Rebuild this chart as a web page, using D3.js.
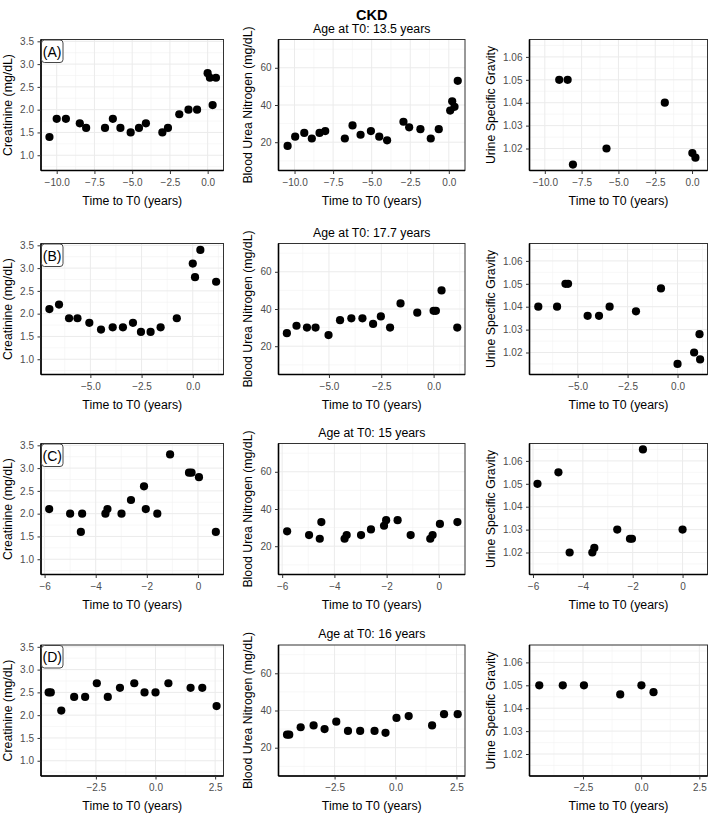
<!DOCTYPE html>
<html><head><meta charset="utf-8">
<script src="https://cdn.jsdelivr.net/npm/d3@7/dist/d3.min.js"></script>
<style>
body{margin:0;background:#fff}
text{font-family:"Liberation Sans",Arial,Helvetica,sans-serif}
</style>
</head><body>
<svg id="chart" width="709" height="814"></svg>
<script>
// ---------------- data (time to T0 in years, value) ----------------
const figureTitle = "CKD";
const panelLabels = ["(A)", "(B)", "(C)", "(D)"];
const ageLabels = ["Age at T0: 13.5 years", "Age at T0: 17.7 years", "Age at T0: 15 years", "Age at T0: 16 years"];
const measureTitles = ["Creatinine (mg/dL)", "Blood Urea Nitrogen (mg/dL)", "Urine Specific Gravity"];
const xTitle = "Time to T0 (years)";

const creatinineA = [[-10.48,1.4],[-10.0,1.8],[-9.39,1.8],[-8.47,1.7],[-8.05,1.6],[-6.8,1.6],[-6.28,1.8],[-5.78,1.6],[-5.1,1.5],[-4.55,1.6],[-4.09,1.7],[-3.0,1.5],[-2.63,1.6],[-1.88,1.9],[-1.27,2.0],[-0.7,2.0],[0.0,2.8],[0.15,2.7],[0.33,2.1],[0.55,2.7]];
const bunA = [[-10.45,18],[-9.96,23],[-9.37,25],[-8.88,22],[-8.38,25],[-8.01,26],[-6.74,22],[-6.24,29],[-5.72,24],[-5.05,26],[-4.51,23],[-4.0,21],[-2.94,31],[-2.57,28],[-1.84,27],[-1.17,22],[-0.65,27],[0.09,37],[0.22,42],[0.37,39],[0.58,53]];
const usgA = [[-9.02,1.050],[-8.45,1.050],[-8.09,1.013],[-5.81,1.020],[-1.85,1.040],[0.02,1.018],[0.23,1.016]];

const creatinineB = [[-7.0,2.1],[-6.53,2.2],[-6.04,1.9],[-5.63,1.9],[-5.05,1.8],[-4.48,1.65],[-3.91,1.7],[-3.41,1.7],[-2.92,1.8],[-2.53,1.6],[-2.06,1.6],[-1.57,1.7],[-0.78,1.9],[0.0,3.1],[0.11,2.8],[0.37,3.4],[1.14,2.7]];
const bunB = [[-7.01,27],[-6.55,31],[-6.05,30],[-5.64,30],[-5.02,26],[-4.47,34],[-3.93,35],[-3.40,35],[-2.89,32],[-2.52,36],[-2.08,30],[-1.58,43],[-0.78,38],[0.0,39],[0.11,39],[0.38,50],[1.13,30]];
const usgB = [[-6.97,1.040],[-6.03,1.040],[-5.61,1.050],[-5.48,1.050],[-4.5,1.036],[-3.93,1.036],[-3.4,1.040],[-2.08,1.038],[-0.83,1.048],[0.0,1.015],[0.83,1.020],[1.1,1.028],[1.13,1.017]];

const creatinineC = [[-5.82,2.1],[-5.0,2.0],[-4.58,1.6],[-4.53,2.0],[-3.62,2.0],[-3.54,2.1],[-2.99,2.0],[-2.62,2.3],[-2.11,2.6],[-2.04,2.1],[-1.59,2.0],[-1.09,3.3],[-0.35,2.9],[-0.25,2.9],[0.04,2.8],[0.70,1.6]];
const bunC = [[-5.81,28],[-4.97,26],[-4.56,24],[-4.50,33],[-3.61,24],[-3.53,26],[-2.98,26],[-2.60,29],[-2.10,31],[-2.02,34],[-1.58,34],[-1.08,26],[-0.33,24],[-0.24,26],[0.04,32],[0.71,33]];
const usgC = [[-5.82,1.050],[-4.98,1.055],[-4.53,1.020],[-3.62,1.020],[-3.54,1.022],[-2.62,1.030],[-2.11,1.026],[-2.03,1.026],[-1.59,1.065],[0.0,1.030]];

const creatinineD = [[-4.48,2.5],[-4.39,2.5],[-3.95,2.1],[-3.41,2.4],[-2.95,2.4],[-2.46,2.7],[-2.0,2.4],[-1.49,2.6],[-0.89,2.7],[-0.46,2.5],[0.0,2.5],[0.54,2.7],[1.47,2.6],[1.96,2.6],[2.56,2.2]];
const bunD = [[-4.45,27],[-4.36,27],[-3.89,31],[-3.36,32],[-2.91,30],[-2.43,34],[-1.95,29],[-1.45,29],[-0.86,29],[-0.41,28],[0.04,36],[0.54,37],[1.5,32],[1.99,38],[2.55,38]];
const usgD = [[-4.38,1.050],[-3.37,1.050],[-2.46,1.050],[-0.90,1.046],[0.01,1.050],[0.53,1.047]];

// axis limits and ticks
const xLimitsByRow = [[-11.04,1.05],[-7.41,1.5],[-6.14,1.0],[-4.8,2.85]];
const xTicksByRow = [[-10,-7.5,-5,-2.5,0],[-5,-2.5,0],[-6,-4,-2,0],[-2.5,0,2.5]];
const xTickDecimals = [1,1,0,1];
const creatinineLimits = [0.665,3.54];
const bunLimits = [4.8,75.2];
const usgLimits = [1.0104,1.0676];
const creatinineTicks = [1.0,1.5,2.0,2.5,3.0,3.5];
const bunTicks = [20,40,60];
const usgTicks = [1.02,1.03,1.04,1.05,1.06];

// ---------------- drawing ----------------
const svg = d3.select("#chart");
const datasets = [[creatinineA,bunA,usgA],[creatinineB,bunB,usgB],[creatinineC,bunC,usgC],[creatinineD,bunD,usgD]];
const yLimits = [creatinineLimits,bunLimits,usgLimits];
const yTicks = [creatinineTicks,bunTicks,usgTicks];
const yFormats = [d3.format(".1f"), d3.format("d"), d3.format(".2f")];

const colX = [[41,223.5],[278.5,465],[529.5,707.5]];
const rowY = [[39.5,170.5],[243.5,374.5],[443.5,574.5],[645,776]];
const yTitleX = [12.3,252.3,495];

function minorTicks(ticks, dom){
  const step = ticks[1]-ticks[0];
  const out = [];
  for(let v = ticks[0]-step*2.5; v <= dom[1]+1e-9; v += step){
    if(v >= dom[0]) out.push(v);
  }
  return out;
}

svg.append("text").attr("x",(colX[1][0]+colX[1][1])/2).attr("y",20)
  .attr("text-anchor","middle").attr("font-size","14.5px").attr("font-weight","bold")
  .attr("fill","#000").text(figureTitle);

for(let r=0;r<4;r++){
  const cx = (colX[1][0]+colX[1][1])/2;
  svg.append("text").attr("x",cx).attr("y",rowY[r][0]-6.8)
    .attr("text-anchor","middle").attr("font-size","12.3px").attr("fill","#000").text(ageLabels[r]);
  for(let c=0;c<3;c++){
    const [x0,x1] = colX[c], [y0,y1] = rowY[r];
    const x = d3.scaleLinear().domain(xLimitsByRow[r]).range([x0,x1]);
    const y = d3.scaleLinear().domain(yLimits[c]).range([y1,y0]);
    const g = svg.append("g");
    g.append("rect").attr("x",x0).attr("y",y0).attr("width",x1-x0).attr("height",y1-y0).attr("fill","#fff");
    const xt = xTicksByRow[r].filter(v=>v>=xLimitsByRow[r][0]&&v<=xLimitsByRow[r][1]);
    const yt = yTicks[c];
    const xm = minorTicks(xTicksByRow[r], xLimitsByRow[r]).filter(v=>!xt.some(t=>Math.abs(t-v)<1e-9));
    const ym = minorTicks(yt, yLimits[c]).filter(v=>!yt.some(t=>Math.abs(t-v)<1e-9));
    // minor grid
    g.selectAll(null).data(xm).join("line").attr("x1",d=>x(d)).attr("x2",d=>x(d)).attr("y1",y0).attr("y2",y1)
      .attr("stroke","#f2f2f2").attr("stroke-width",0.6);
    g.selectAll(null).data(ym).join("line").attr("y1",d=>y(d)).attr("y2",d=>y(d)).attr("x1",x0).attr("x2",x1)
      .attr("stroke","#f2f2f2").attr("stroke-width",0.6);
    // major grid
    g.selectAll(null).data(xt).join("line").attr("x1",d=>x(d)).attr("x2",d=>x(d)).attr("y1",y0).attr("y2",y1)
      .attr("stroke","#ebebeb").attr("stroke-width",1);
    g.selectAll(null).data(yt).join("line").attr("y1",d=>y(d)).attr("y2",d=>y(d)).attr("x1",x0).attr("x2",x1)
      .attr("stroke","#ebebeb").attr("stroke-width",1);
    // points
    g.selectAll(null).data(datasets[r][c]).join("circle")
      .attr("cx",d=>x(d[0])).attr("cy",d=>y(d[1])).attr("r",4.1).attr("fill","#000");
    // border
    g.append("rect").attr("x",x0).attr("y",y0).attr("width",x1-x0).attr("height",y1-y0)
      .attr("fill","none").attr("stroke","#333").attr("stroke-width",1);
    g.append("line").attr("x1",x0).attr("x2",x0).attr("y1",y0).attr("y2",y1).attr("stroke","#000").attr("stroke-width",1.6);
    g.append("line").attr("x1",x0).attr("x2",x1).attr("y1",y1).attr("y2",y1).attr("stroke","#000").attr("stroke-width",1.6);
    // axes
    const xa = g.append("g").attr("transform",`translate(0,${y1})`)
      .call(d3.axisBottom(x).tickValues(xt).tickFormat(d3.format("."+xTickDecimals[r]+"f")).tickSize(3.5).tickPadding(4.8));
    const ya = g.append("g").attr("transform",`translate(${x0},0)`)
      .call(d3.axisLeft(y).tickValues(yt).tickFormat(yFormats[c]).tickSize(3.5).tickPadding(3.5));
    [xa,ya].forEach(a=>{
      a.select(".domain").remove();
      a.selectAll(".tick line").attr("stroke","#333").attr("stroke-width",1);
      a.selectAll(".tick text").attr("fill","#4d4d4d").attr("font-size","10px")
        .attr("font-family","'Liberation Sans',Arial,sans-serif");
    });
    // axis titles
    g.append("text").attr("x",(x0+x1)/2).attr("y",y1+34).attr("text-anchor","middle")
      .attr("font-size","12.3px").attr("fill","#000").text(xTitle);
    g.append("text").attr("transform",`translate(${yTitleX[c]},${(y0+y1)/2}) rotate(-90)`)
      .attr("text-anchor","middle").attr("font-size","12.3px").attr("fill","#000").text(measureTitles[c]);
    // panel tag
    if(c===0){
      g.append("rect").attr("x",x0+0.5).attr("y",y0+0.5).attr("width",21.5).attr("height",22.5).attr("rx",3)
        .attr("fill","#fff").attr("stroke","#333").attr("stroke-width",0.9);
      g.append("text").attr("x",x0+11.2).attr("y",y0+17).attr("text-anchor","middle")
        .attr("font-size","14px").attr("fill","#000").text(panelLabels[r]);
    }
  }
}
</script>
</body></html>
